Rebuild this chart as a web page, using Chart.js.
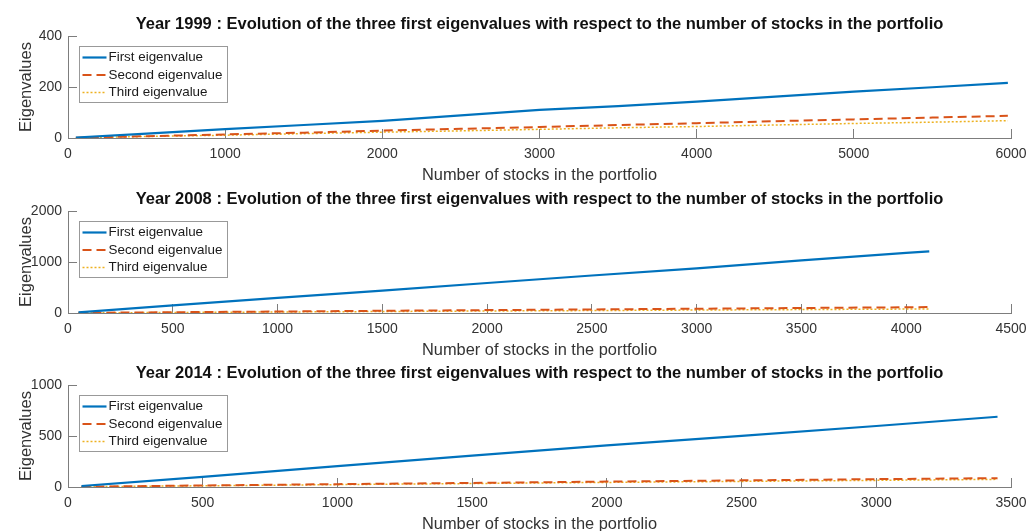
<!DOCTYPE html>
<html>
<head>
<meta charset="utf-8">
<script src="https://cdn.jsdelivr.net/npm/chart.js@4"></script>
<style>
  html, body { margin: 0; padding: 0; background: #fff; }
  body { width: 1028px; height: 531px; position: relative; overflow: hidden; }
  canvas { position: absolute; left: 0; }
</style>
</head>
<body>
<canvas id="chart1999" width="1028" height="185" style="top:0px"></canvas>
<canvas id="chart2008" width="1028" height="185" style="top:175px"></canvas>
<canvas id="chart2014" width="1028" height="185" style="top:349px"></canvas>
<script>
// Number of stocks in the portfolio and the three largest eigenvalues, per year
const stocks1999 = [50, 500, 1000, 1500, 2000, 2500, 3000, 3500, 4000, 4500, 5000, 5500, 5980];
const first1999  = [2, 17, 35, 51, 67, 89, 110, 125, 143, 162, 182, 199, 216];
const second1999 = [1, 7, 14, 21, 29, 36, 43, 51, 58, 66, 73, 80, 87];
const third1999  = [1, 6, 11, 17, 23, 28, 34, 40, 45, 51, 57, 62, 68];

const stocks2008 = [50, 500, 1000, 1500, 2000, 2500, 3000, 3500, 4000, 4110];
const first2008  = [12, 150, 295, 440, 588, 735, 875, 1030, 1178, 1208];
const second2008 = [3, 15, 29, 43, 57, 70, 84, 98, 112, 116];
const third2008  = [2, 10, 20, 29, 39, 48, 58, 67, 77, 80];

const stocks2014 = [50, 500, 1000, 1500, 2000, 2500, 3000, 3450];
const first2014  = [10, 100, 205, 308, 408, 502, 598, 689];
const second2014 = [3, 15, 28, 40, 53, 65, 77, 87];
const third2014  = [2, 12, 23, 34, 45, 55, 65, 75];

const seriesLabels = ['First eigenvalue', 'Second eigenvalue', 'Third eigenvalue'];
const seriesColors = ['#0072BD', '#D95319', '#EDB120'];
const seriesDash = [[], [9, 5], [2, 2]];
const seriesWidth = [2.2, 2, 1.5];

const FONT = "'Liberation Sans', Arial, Helvetica, sans-serif";
const AXIS_COLOR = '#7d7d7d';
const TEXT_COLOR = '#333';

// panel title, centred over the plot area rather than the whole canvas
const axesTitle = {
  id: 'axesTitle',
  afterDraw(chart, args, opts) {
    const ctx = chart.ctx;
    const area = chart.chartArea;
    ctx.save();
    ctx.font = 'bold 16.5px ' + FONT;
    ctx.fillStyle = '#111';
    ctx.textAlign = 'center';
    ctx.textBaseline = 'middle';
    ctx.fillText(opts.text, (area.left + area.right) / 2, area.top - 12);
    ctx.restore();
  }
};

// legend box drawn inside the plot, top-left corner
const boxLegend = {
  id: 'boxLegend',
  afterDatasetsDraw(chart) {
    const ctx = chart.ctx;
    const area = chart.chartArea;
    ctx.save();
    ctx.font = '13.4px ' + FONT;
    const sets = chart.data.datasets;
    let maxW = 0;
    sets.forEach(ds => { maxW = Math.max(maxW, ctx.measureText(ds.label).width); });
    const x0 = Math.round(area.left + 11) + 0.5;
    const y0 = Math.round(area.top + 10) + 0.5;
    const rowH = 17.5;
    const w = Math.round(29 + maxW + 5);
    const h = Math.round(rowH * sets.length + 3);
    ctx.fillStyle = '#fff';
    ctx.fillRect(x0, y0, w, h);
    ctx.strokeStyle = '#999';
    ctx.lineWidth = 1;
    ctx.setLineDash([]);
    ctx.strokeRect(x0, y0, w, h);
    sets.forEach((ds, i) => {
      const cy = y0 + 11 + i * rowH;
      ctx.beginPath();
      ctx.strokeStyle = ds.borderColor;
      ctx.lineWidth = ds.borderWidth;
      ctx.setLineDash(ds.borderDash || []);
      ctx.moveTo(x0 + 3, cy);
      ctx.lineTo(x0 + 27, cy);
      ctx.stroke();
      ctx.setLineDash([]);
      ctx.fillStyle = '#1a1a1a';
      ctx.textBaseline = 'middle';
      ctx.textAlign = 'left';
      ctx.fillText(ds.label, x0 + 29, cy);
    });
    ctx.restore();
  }
};

function makePanel(canvasId, year, stocks, series, xMax, xStep, yMax, yStep) {
  const datasets = series.map((vals, i) => ({
    label: seriesLabels[i],
    data: stocks.map((s, k) => ({ x: s, y: vals[k] })),
    borderColor: seriesColors[i],
    borderWidth: seriesWidth[i],
    borderDash: seriesDash[i],
    pointRadius: 0,
    fill: false,
    tension: 0
  }));

  return new Chart(document.getElementById(canvasId).getContext('2d'), {
    type: 'line',
    data: { datasets: datasets },
    options: {
      responsive: false,
      animation: false,
      layout: { padding: { top: 36, left: 0, right: 0, bottom: 0 } },
      plugins: {
        legend: { display: false },
        tooltip: { enabled: false },
        title: { display: false },
        axesTitle: {
          text: 'Year ' + year + ' : Evolution of the three first eigenvalues with respect to the number of stocks in the portfolio'
        }
      },
      scales: {
        x: {
          type: 'linear',
          min: 0,
          max: xMax,
          afterFit(scale) {
            scale.height = 47;
            scale.paddingRight = 17;
            scale.paddingLeft = 0;
          },
          ticks: {
            stepSize: xStep,
            color: TEXT_COLOR,
            padding: 17,
            maxRotation: 0,
            callback: v => String(v),
            font: { family: FONT, size: 14 }
          },
          grid: {
            drawOnChartArea: false,
            drawTicks: true,
            tickLength: -9,
            color: AXIS_COLOR
          },
          border: { display: true, color: AXIS_COLOR, width: 1 },
          title: {
            display: true,
            text: 'Number of stocks in the portfolio',
            color: TEXT_COLOR,
            font: { family: FONT, size: 16.4, lineHeight: 1.2 },
            padding: { top: 0, bottom: 0 }
          }
        },
        y: {
          min: 0,
          max: yMax,
          afterFit(scale) {
            scale.width = 68;
          },
          ticks: {
            stepSize: yStep,
            color: TEXT_COLOR,
            padding: 15,
            callback: v => String(v),
            font: { family: FONT, size: 14 }
          },
          grid: {
            drawOnChartArea: false,
            drawTicks: true,
            tickLength: -9,
            color: AXIS_COLOR
          },
          border: { display: true, color: AXIS_COLOR, width: 1 },
          title: {
            display: true,
            text: 'Eigenvalues',
            color: TEXT_COLOR,
            font: { family: FONT, size: 16.5, lineHeight: 1.2 },
            padding: { top: 17, bottom: 0 }
          }
        }
      }
    },
    plugins: [boxLegend, axesTitle]
  });
}

makePanel('chart1999', 1999, stocks1999, [first1999, second1999, third1999], 6000, 1000, 400, 200);
makePanel('chart2008', 2008, stocks2008, [first2008, second2008, third2008], 4500, 500, 2000, 1000);
makePanel('chart2014', 2014, stocks2014, [first2014, second2014, third2014], 3500, 500, 1000, 500);
</script>
</body>
</html>
